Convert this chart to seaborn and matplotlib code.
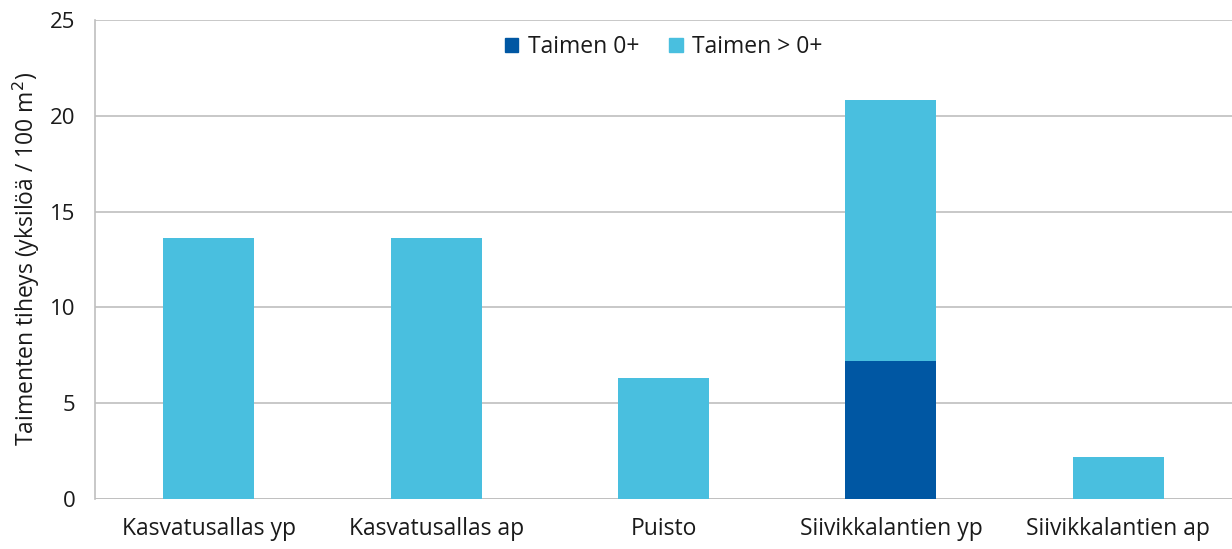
import pandas as pd
import matplotlib.pyplot as plt
import seaborn as sns
from matplotlib.patches import Patch
from matplotlib.ticker import FixedLocator

# Data
sites = ["Kasvatusallas yp", "Kasvatusallas ap", "Puisto", "Siivikkalantien yp", "Siivikkalantien ap"]
trout_0 = [0.0, 0.0, 0.0, 7.2, 0.0]
trout_older = [13.6, 13.6, 6.3, 13.6, 2.2]

df = pd.DataFrame({"site": sites, "0+": trout_0, "older": trout_older})
df["total"] = df["0+"] + df["older"]

dark = "#0057A3"
light = "#49BFDF"
grid = "#BFBFBF"
text = "#1A1A1A"

sns.set_style("white")
plt.rcParams["font.family"] = ["Open Sans", "DejaVu Sans"]
plt.rcParams["text.color"] = text
plt.rcParams["xtick.labelcolor"] = text
plt.rcParams["ytick.labelcolor"] = text
plt.rcParams["axes.labelcolor"] = text

fig = plt.figure(figsize=(12.32, 5.49), dpi=100)
ax = fig.add_axes([0.0771, 0.0911, 0.9229, 0.8725])

# stacked bars: total in light blue, 0+ drawn on top from zero
sns.barplot(data=df, x="site", y="total", color=light, width=0.4, saturation=1, linewidth=0, ax=ax)
sns.barplot(data=df, x="site", y="0+", color=dark, width=0.4, saturation=1, linewidth=0, ax=ax)

ax.set_ylim(0, 25)
ax.set_xlim(-0.5, len(sites) - 0.5)
ax.set_yticks([0, 5, 10, 15, 20, 25])
ax.yaxis.grid(True, color=grid, linewidth=1.2)
ax.set_axisbelow(True)

for s in ["top", "right", "bottom"]:
    ax.spines[s].set_visible(False)
ax.spines["left"].set_color(grid)
ax.spines["left"].set_linewidth(1.2)

ax.tick_params(axis="y", length=9, width=1.2, color=grid, labelsize=16, pad=5)
ax.tick_params(axis="x", length=0, labelsize=16.5, pad=13)
ax.xaxis.set_minor_locator(FixedLocator([i - 0.5 for i in range(len(sites) + 1)]))
ax.tick_params(axis="x", which="minor", length=9, width=1.2, color=grid)
ax.axhline(0, color=grid, linewidth=1.2, zorder=0)

ax.set_xlabel("")
ax.set_ylabel("Taimenten tiheys (yksilöä / 100 m$^2$)", fontsize=16.5, labelpad=6)

handles = [Patch(color=dark, label="Taimen 0+"), Patch(color=light, label="Taimen > 0+")]
ax.legend(handles=handles, loc="upper center", bbox_to_anchor=(0.5, 1.012), ncol=2,
          frameon=False, fontsize=16.5, handlelength=0.6, handleheight=0.6,
          columnspacing=1.3, handletextpad=0.4)

fig.savefig("out.png", dpi=100)
